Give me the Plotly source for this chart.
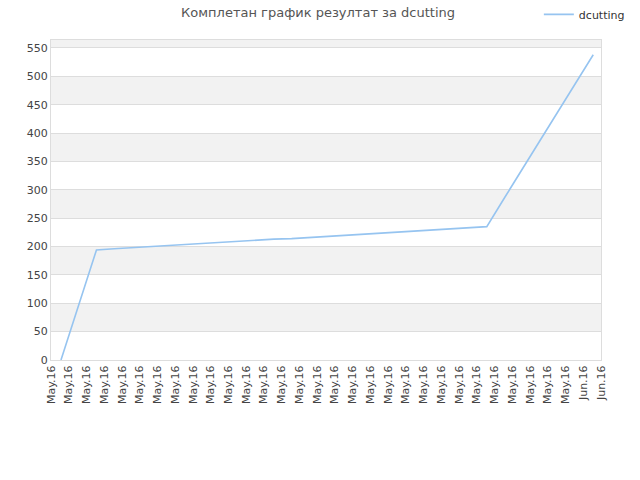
import plotly.graph_objects as go

# Data points (daily snapshots)
dates = [f"2016-05-{d:02d} 13:30" for d in range(2, 32)] + ["2016-06-01 13:30"]
results = [0, 97, 194, 196, 198, 200, 201, 203, 205, 207, 209, 211, 213, 214, 216,
           218, 220, 222, 224, 226, 228, 229, 231, 233, 235, 286, 336, 387, 437, 488, 538]

TITLE = "Комплетан график резултат за dcutting"
SERIES = "dcutting"
LINE_COLOR = "#96c4f0"
FONT = "DejaVu Sans"

fig = go.Figure()
fig.add_trace(go.Scatter(
    x=dates, y=results, mode="lines", name=SERIES,
    line=dict(color=LINE_COLOR, width=1.6),
))

# alternate grey bands
bands = [(50, 100), (150, 200), (250, 300), (350, 400), (450, 500), (550, 564)]
for y0, y1 in bands:
    fig.add_shape(type="rect", xref="paper", x0=0, x1=1, yref="y", y0=y0, y1=y1,
                  fillcolor="#f2f2f2", line_width=0, layer="below")

fig.update_layout(
    width=640, height=480,
    margin=dict(l=51, r=39, t=40, b=120, autoexpand=False),
    paper_bgcolor="white", plot_bgcolor="white",
    font=dict(family=FONT, size=11, color="#444"),
    title=dict(text=TITLE, x=0.497, xanchor="center", y=0.975, yanchor="middle",
               font=dict(family=FONT, size=13, color="#555")),
    showlegend=True,
    legend=dict(x=0.887, xanchor="left", y=1.08, yanchor="middle",
                font=dict(size=11, color="#333"), bgcolor="rgba(0,0,0,0)"),
    xaxis=dict(
        type="date", range=["2016-05-02", "2016-06-02"],
        tick0="2016-05-02", dtick=86400000, tickformat="%b.%y",
        tickangle=-90, showgrid=False, ticks="", zeroline=False, automargin=False,
        showline=True, linecolor="#dddddd", mirror=True,
        tickfont=dict(size=11, color="#444"),
    ),
    yaxis=dict(
        range=[0, 564], tick0=0, dtick=50, showgrid=True, gridcolor="#dddddd",
        zeroline=False, ticks="", automargin=False,
        showline=True, linecolor="#dddddd", mirror=True,
        tickfont=dict(size=11, color="#444"),
    ),
)

fig.write_html("out.html", config={"displayModeBar": False},
               post_script="document.body.style.margin='0';")
